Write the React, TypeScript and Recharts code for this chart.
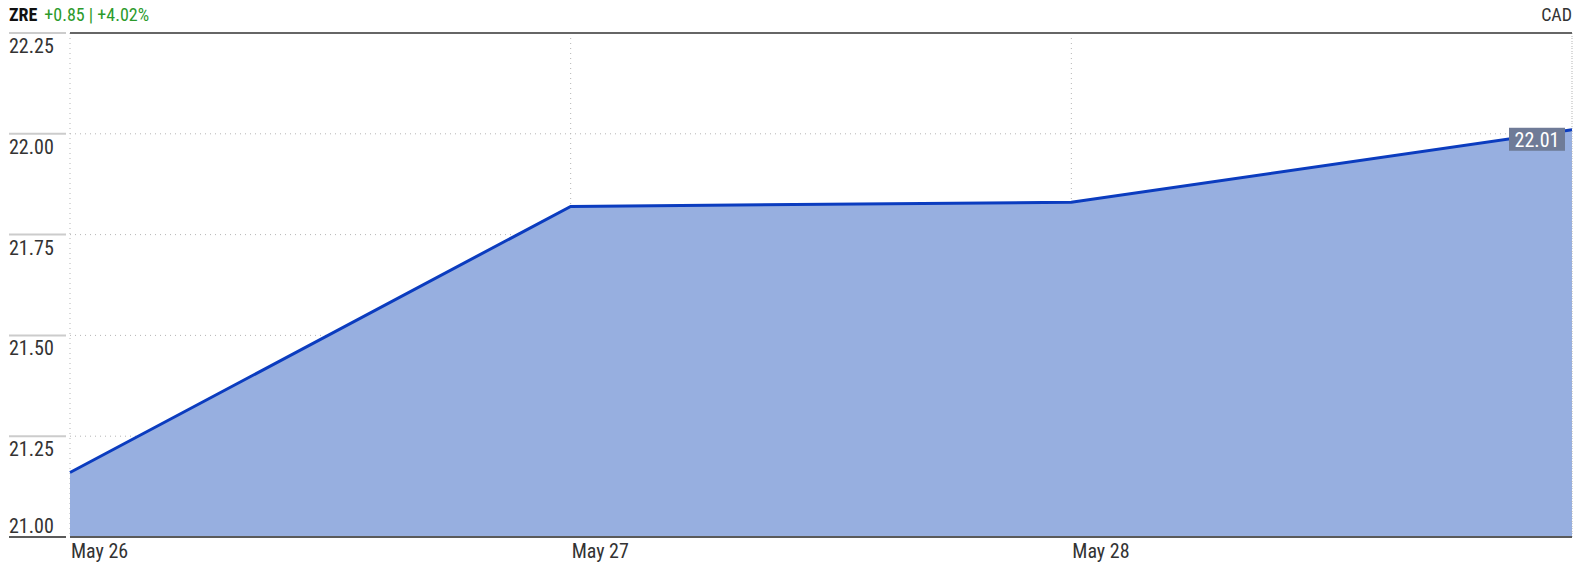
import React from "react"
import {
    AreaChart,
    Area,
    XAxis,
    YAxis,
    CartesianGrid,
    ReferenceLine,
} from "recharts"

const dates = ["May 26", "May 27", "May 28", "May 29"]
const prices = [21.16, 21.82, 21.83, 22.01]
const yTicks = [21.0, 21.25, 21.5, 21.75, 22.0, 22.25]
const xTicks = [0, 1, 2]

const data = prices.map((p, i) => ({ idx: i, date: dates[i], price: p }))

const FONT = "'Liberation Sans Narrow', 'Roboto Condensed', 'DejaVu Sans Condensed', sans-serif"

const YTick = ({ y, payload }: any) => {
    const v = payload.value
    const isBottom = v === 21
    return (
        <g>
            <line
                x1={9}
                x2={66}
                y1={y}
                y2={y}
                stroke={isBottom ? "#5a5a5a" : "#cccccc"}
                strokeWidth={2}
            />
            <text x={9} y={isBottom ? y - 4 : y + 20} fill="#333" fontSize={20} fontFamily={FONT}>
                {v.toFixed(2)}
            </text>
        </g>
    )
}

const XTick = ({ x, y, payload }: any) => (
    <text x={x + 1} y={y + 13} fill="#333" fontSize={20} fontFamily={FONT}>
        {dates[payload.value]}
    </text>
)

const lastLabel = (props: any) => {
    const { x, y, index } = props
    if (index !== prices.length - 1) return null
    return (
        <g>
            <rect x={x - 63} y={y - 2} width={56} height={23} fill="#6f7b97" />
            <text
                x={x - 35}
                y={y + 17}
                textAnchor="middle"
                fill="#fff"
                fontSize={20}
                fontFamily={FONT}
            >
                {prices[index].toFixed(2)}
            </text>
        </g>
    )
}

export default function App() {
    return (
        <div style={{ position: "absolute", left: 0, top: 0, width: 1584, height: 565, background: "#fff" }}>
            <div style={{ position: "absolute", left: 9, top: 4, fontFamily: FONT, fontSize: 18, whiteSpace: "nowrap" }}>
                <span style={{ fontWeight: "bold", color: "#111" }}>ZRE</span>
                <span style={{ color: "#2b9a2b", marginLeft: 7 }}>+0.85 | +4.02%</span>
            </div>
            <div style={{ position: "absolute", right: 12, top: 4, fontFamily: FONT, fontSize: 18, color: "#333" }}>
                CAD
            </div>
            <AreaChart
                width={1584}
                height={565}
                data={data}
                margin={{ top: 33, right: 12, bottom: 0, left: 0 }}
            >
                <CartesianGrid stroke="#b5b5b5" strokeDasharray="1 4" />
                <XAxis
                    dataKey="idx"
                    type="number"
                    domain={[0, 3]}
                    ticks={xTicks}
                    height={28}
                    axisLine={false}
                    tickLine={false}
                    tick={<XTick />}
                />
                <YAxis
                    type="number"
                    domain={[21, 22.25]}
                    ticks={yTicks}
                    width={70}
                    axisLine={false}
                    tickLine={false}
                    tick={<YTick />}
                />
                <ReferenceLine x={3} stroke="#b5b5b5" strokeDasharray="1 4" />
                <Area
                    type="linear"
                    dataKey="price"
                    stroke="#0b3cbf"
                    strokeWidth={3}
                    fill="#97afe0"
                    fillOpacity={1}
                    isAnimationActive={false}
                    label={lastLabel}
                />
                <ReferenceLine y={22.25} stroke="#666" strokeWidth={2} />
                <ReferenceLine y={21} stroke="#5a5a5a" strokeWidth={2} />
            </AreaChart>
        </div>
    )
}
